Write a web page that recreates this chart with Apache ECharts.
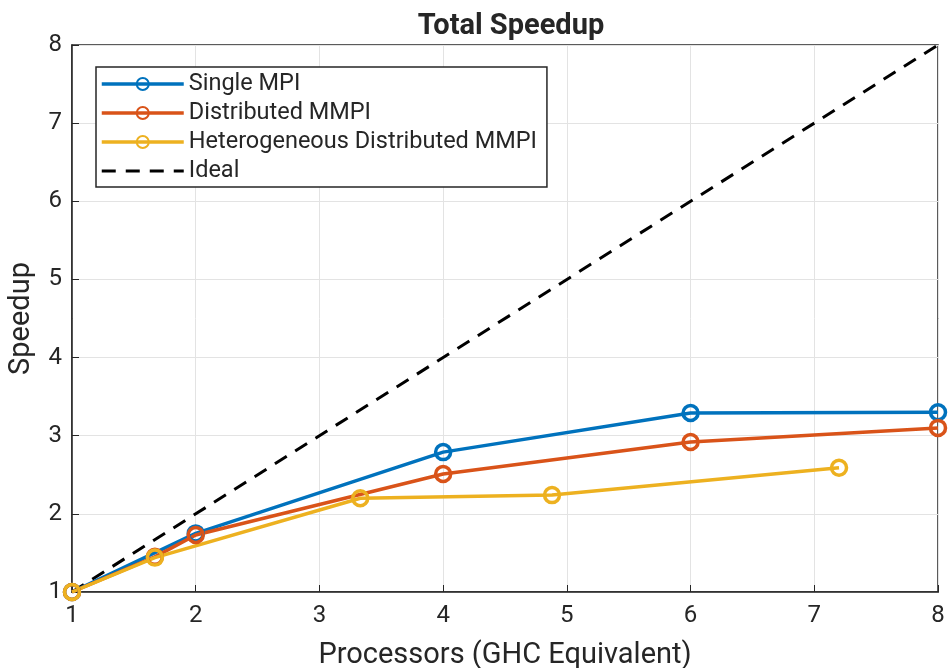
<!DOCTYPE html>
<html>
<head>
<meta charset="utf-8">
<script src="https://cdn.jsdelivr.net/npm/echarts@6/dist/echarts.min.js"></script>
<style>
  html, body { margin: 0; padding: 0; background: #fff; }
  #chart { width: 951px; height: 668px; }
</style>
</head>
<body>
<div id="chart"></div>
<script>
// processors (GHC equivalent) and speedup values
const singleX = [1, 2, 4, 6, 8]
const singleY = [1, 1.75, 2.79, 3.29, 3.30]

const distX = [1, 1.67, 2, 4, 6, 8]
const distY = [1, 1.45, 1.73, 2.51, 2.92, 3.10]

const heteroX = [1, 1.67, 3.33, 4.88, 7.2]
const heteroY = [1, 1.44, 2.20, 2.24, 2.59]

const idealX = [1, 8]
const idealY = [1, 8]

const pairs = (xs, ys) => xs.map((x, i) => [x, ys[i]])

const font = 'Roboto, "Liberation Sans", Arial, sans-serif'

function lineSeries(name, color, data) {
  return {
    name: name,
    type: 'line',
    data: data,
    symbol: 'circle',
    symbolSize: 15,
    showAllSymbol: true,
    lineStyle: { color: color, width: 3.5 },
    itemStyle: { color: 'rgba(255,255,255,0)', borderColor: color, borderWidth: 3.5 },
    emphasis: { disabled: true },
    z: 3
  }
}

const legendLine = { width: 3.5 }

const chart = echarts.init(document.getElementById('chart'))
chart.setOption({
  animation: false,
  textStyle: { fontFamily: font },
  title: {
    text: 'Total Speedup',
    left: 506,
    top: 7,
    textAlign: 'center',
    textStyle: { fontSize: 29, fontWeight: 'bold', color: '#262626', fontFamily: font }
  },
  grid: {
    left: 72, right: 13, top: 45, bottom: 76,
    outerBoundsMode: 'none',
    containLabel: false,
    show: true, borderColor: '#262626', borderWidth: 1.5, backgroundColor: '#fff'
  },
  legend: {
    orient: 'vertical',
    left: 96,
    top: 67,
    padding: [5, 10, 4, 4],
    itemWidth: 82,
    itemHeight: 15,
    itemGap: 5,
    backgroundColor: '#fff',
    borderColor: '#262626',
    borderWidth: 1.5,
    borderRadius: 0,
    textStyle: { fontSize: 23.5, color: '#262626', padding: [0, 0, 0, 0] },
    data: [
      { name: 'Single MPI', lineStyle: legendLine },
      { name: 'Distributed MMPI', lineStyle: legendLine },
      { name: 'Heterogeneous Distributed MMPI', lineStyle: legendLine },
      { name: 'Ideal', lineStyle: { width: 3 }, itemStyle: { color: 'rgba(0,0,0,0)', borderWidth: 0 } }
    ]
  },
  xAxis: {
    type: 'value',
    min: 1, max: 8, interval: 1,
    name: 'Processors (GHC Equivalent)',
    nameLocation: 'middle',
    nameGap: 49,
    nameTextStyle: { fontSize: 29, color: '#262626' },
    axisLine: { lineStyle: { color: '#262626', width: 1.5 } },
    axisTick: { inside: true, length: 7, lineStyle: { color: '#262626' } },
    axisLabel: { fontSize: 24, color: '#262626', margin: 12 },
    splitLine: { show: true, lineStyle: { color: '#e3e3e3', width: 1 } }
  },
  yAxis: {
    type: 'value',
    min: 1, max: 8, interval: 1,
    name: 'Speedup',
    nameLocation: 'middle',
    nameGap: 36,
    nameTextStyle: { fontSize: 29, color: '#262626' },
    axisLine: { show: true, lineStyle: { color: '#262626', width: 1.5 } },
    axisTick: { show: true, inside: true, length: 7, lineStyle: { color: '#262626' } },
    axisLabel: { fontSize: 24, color: '#262626', margin: 10 },
    splitLine: { show: true, lineStyle: { color: '#e3e3e3', width: 1 } }
  },
  series: [
    {
      name: 'Ideal',
      type: 'line',
      data: pairs(idealX, idealY),
      symbol: 'none',
      lineStyle: { color: '#000', width: 3, type: [14, 10] },
      itemStyle: { color: '#000' },
      z: 2
    },
    lineSeries('Single MPI', '#0072BD', pairs(singleX, singleY)),
    lineSeries('Distributed MMPI', '#D95319', pairs(distX, distY)),
    lineSeries('Heterogeneous Distributed MMPI', '#EDB120', pairs(heteroX, heteroY))
  ]
})
</script>
</body>
</html>
